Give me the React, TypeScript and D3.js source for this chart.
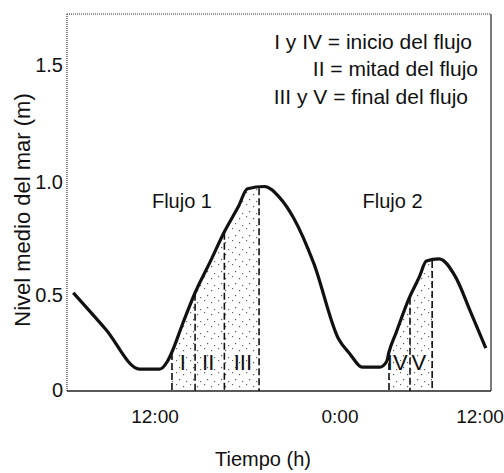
import React from "react";
import * as d3 from "d3";

// ---- data ----
const hours = [6.7, 8.8, 11.0, 12.3, 12.8, 13.1, 13.8, 14.6, 15.6, 16.5, 17.4, 18.0, 19.1, 20.1, 21.0, 22.3, 23.9, 24.85, 25.9, 27.4, 28.0, 28.2, 28.8, 29.9, 30.8, 31.4, 32.5, 33.9, 35.2, 36.5];
const level = [0.51, 0.32, 0.11, 0.11, 0.15, 0.2, 0.35, 0.51, 0.65, 0.78, 0.89, 0.97, 0.98, 0.93, 0.84, 0.64, 0.27, 0.19, 0.12, 0.12, 0.15, 0.2, 0.3, 0.48, 0.58, 0.65, 0.66, 0.58, 0.41, 0.22];

const flowMarks = [13.1, 14.6, 16.5, 18.75, 28.2, 30.0, 31.9];
const shadedRanges = [[13.1, 18.75], [28.2, 31.9]];
const romanLabels = ["I", "II", "III", "IV", "V"];
const romanHours = [13.8, 15.45, 17.7, 28.9, 30.75];
const flowNames = ["Flujo 1", "Flujo 2"];
const flowNameHours = [13.75, 28.5];
const legendLines = ["I y IV = inicio del flujo", "II = mitad del flujo", "III y V = final del flujo"];

const xTicks = [12, 24, 36];
const xTickLabels = ["12:00", "0:00", "12:00"];
const yTicks = [0, 0.5, 1.0, 1.5];
const yTickLabels = ["0", "0.5", "1.0", "1.5"];

const FONT = "'Liberation Sans', Arial, sans-serif";
const NARROW = "'Liberation Sans Narrow', 'Arial Narrow', 'Liberation Sans', Arial, sans-serif";

export default function App() {
  const left = 67, right = 491, top = 14, bottom = 391;
  const x = d3.scaleLinear().domain([12, 24, 36]).range([155, 340, 480]);
  const y = d3.scaleLinear().domain([0, 0.5, 1.0, 1.5]).range([390, 295, 182, 65]);
  const interp = d3.scaleLinear().domain(hours).range(level);

  const pts = hours.map((h, i) => [h, level[i]] as [number, number]);
  const line = d3.line<[number, number]>().x(d => x(d[0])).y(d => y(d[1])).curve(d3.curveMonotoneX);
  const area = d3.area<[number, number]>().x(d => x(d[0])).y0(y(0)).y1(d => y(d[1])).curve(d3.curveMonotoneX);

  return (
    <svg width={504} height={473} style={{ position: "absolute", left: 0, top: 0, background: "#fff" }}>
      <defs>
        <pattern id="stip" width="14" height="12" patternUnits="userSpaceOnUse">
          <rect x="1" y="2" width="1.2" height="1.2" fill="#555" />
          <rect x="8" y="0" width="1.2" height="1.2" fill="#666" />
          <rect x="11" y="7" width="1.2" height="1.2" fill="#555" />
          <rect x="4" y="9" width="1.2" height="1.2" fill="#666" />
        </pattern>
        <clipPath id="shadeClip">
          {shadedRanges.map((r, i) => (
            <rect key={i} x={x(r[0])} y={0} width={x(r[1]) - x(r[0])} height={bottom} />
          ))}
        </clipPath>
      </defs>

      {/* frame */}
      <line x1={left} x2={right} y1={top} y2={top} stroke="#333" strokeWidth={1.2} strokeDasharray="1 1" />
      <line x1={left} x2={left} y1={top} y2={bottom} stroke="#333" strokeWidth={1.2} strokeDasharray="1 1" />
      <line x1={right} x2={right} y1={top} y2={bottom} stroke="#222" strokeWidth={1.2} />
      <line x1={left} x2={right} y1={bottom} y2={bottom} stroke="#222" strokeWidth={1.5} />

      {/* stipple */}
      <path d={area(pts) || ""} fill="url(#stip)" clipPath="url(#shadeClip)" />

      {/* dashed flow marks */}
      {flowMarks.map((h, i) => (
        <line key={i} x1={x(h)} x2={x(h)} y1={y(interp(h)) + 1} y2={bottom} stroke="#111" strokeWidth={1.6} strokeDasharray="7 3" />
      ))}

      {/* curve */}
      <path d={line(pts) || ""} fill="none" stroke="#111" strokeWidth={3.2} strokeLinejoin="round" />

      {/* roman labels */}
      {romanLabels.map((t, i) => (
        <text key={i} x={x(romanHours[i])} y={y(0.146)} textAnchor="middle" dominantBaseline="central" fontFamily={NARROW} fontSize={22} fill="#111">{t}</text>
      ))}

      {/* flow names */}
      {flowNames.map((t, i) => (
        <text key={i} x={x(flowNameHours[i])} y={y(0.915)} textAnchor="middle" dominantBaseline="central" fontFamily={FONT} fontSize={20} fill="#111">{t}</text>
      ))}

      {/* legend */}
      {legendLines.map((t, i) => (
        <text key={i} x={[472, 478, 468][i]} y={41 + i * 27.5} textAnchor="end" dominantBaseline="central" fontFamily={FONT} fontSize={21} fill="#111">{t}</text>
      ))}

      {/* y ticks */}
      {yTicks.map((v, i) => (
        <text key={i} x={63} y={y(v)} textAnchor="end" dominantBaseline="central" fontFamily={FONT} fontSize={20} fill="#111">{yTickLabels[i]}</text>
      ))}
      {/* x ticks */}
      {xTicks.map((v, i) => (
        <text key={i} x={x(v)} y={416} textAnchor="middle" dominantBaseline="central" fontFamily={FONT} fontSize={19} fill="#111">{xTickLabels[i]}</text>
      ))}

      <text x={263} y={459} textAnchor="middle" dominantBaseline="central" fontFamily={FONT} fontSize={20} fill="#111">Tiempo (h)</text>
      <text transform={`translate(22,210) rotate(-90)`} textAnchor="middle" dominantBaseline="central" fontFamily={FONT} fontSize={22} fill="#111">Nivel medio del mar (m)</text>
    </svg>
  );
}
